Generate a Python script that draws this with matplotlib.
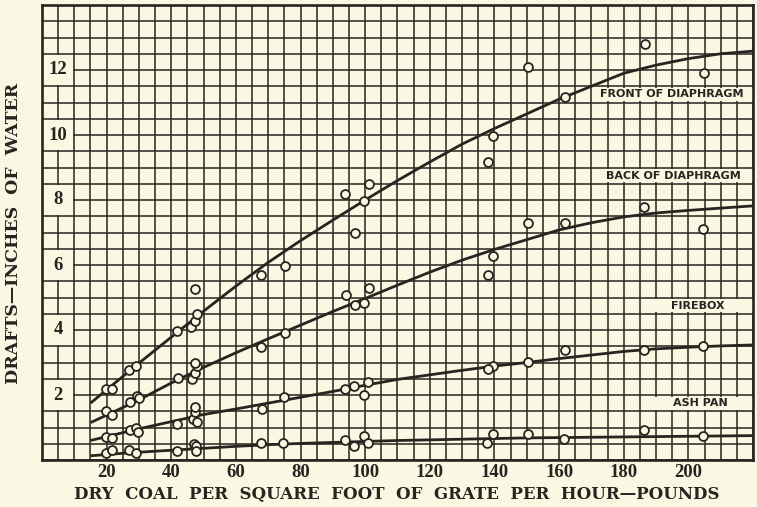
import matplotlib
matplotlib.use("Agg")
import matplotlib.pyplot as plt
from matplotlib.patches import Rectangle

# ---- measured points: dry coal (lb / sq ft / hr) vs draft (in. of water) ----
front_x = [19.7, 21.6, 26.9, 29.0, 41.7, 46.2, 47.3, 47.9, 47.2, 67.9, 75.2,
           93.8, 101.3, 99.6, 96.9, 139.6, 137.9, 150.3, 161.8, 186.6, 204.8]
front_y = [2.2, 2.2, 2.78, 2.89, 3.98, 4.08, 4.27, 4.5, 5.27, 5.69, 5.98,
           8.19, 8.5, 7.96, 6.97, 9.98, 9.18, 12.09, 11.18, 12.8, 11.9]

back_x = [19.7, 21.8, 27.2, 29.3, 29.9, 42.0, 46.3, 47.2, 47.9, 47.2, 67.9, 75.2,
          94.0, 101.3, 96.9, 99.7, 139.6, 138.1, 150.3, 161.8, 186.4, 204.4]
back_y = [1.5, 1.4, 1.79, 1.98, 1.9, 2.51, 2.48, 2.67, 2.89, 2.99, 3.47, 3.9,
          5.09, 5.3, 4.78, 4.84, 6.29, 5.68, 7.29, 7.29, 7.8, 7.11]

firebox_x = [19.8, 21.7, 27.2, 29.1, 29.8, 41.7, 46.8, 47.3, 47.3, 47.9, 68.0,
             75.0, 93.7, 96.6, 101.0, 99.5, 139.6, 138.1, 150.3, 161.8, 186.2, 204.4]
firebox_y = [0.70, 0.68, 0.91, 0.99, 0.87, 1.12, 1.27, 1.48, 1.64, 1.16, 1.58,
             1.93, 2.2, 2.27, 2.4, 2.0, 2.89, 2.8, 3.01, 3.4, 3.4, 3.5]

ashpan_x = [19.7, 21.8, 27.0, 29.0, 41.7, 47.1, 47.5, 47.6, 67.9, 74.7, 93.7,
            96.6, 99.5, 101.0, 139.6, 137.8, 150.3, 161.6, 186.2, 204.4]
ashpan_y = [0.22, 0.32, 0.32, 0.22, 0.29, 0.5, 0.42, 0.27, 0.51, 0.51, 0.63,
            0.43, 0.73, 0.51, 0.8, 0.51, 0.8, 0.65, 0.91, 0.73]

# ---- faired curves drawn through the observations ----
curve_x = [15, 20, 30, 40, 50, 60, 70, 80, 90, 100, 110, 120, 130, 140,
           150, 160, 170, 180, 190, 200, 210, 220]
front_curve = [1.75, 2.16, 2.98, 3.78, 4.58, 5.35, 6.08, 6.75, 7.38, 8.0, 8.6,
               9.17, 9.72, 10.2, 10.65, 11.1, 11.5, 11.9, 12.15, 12.35, 12.5, 12.58]
back_curve = [1.15, 1.38, 1.85, 2.37, 2.85, 3.3, 3.73, 4.15, 4.57, 4.97, 5.38,
              5.78, 6.15, 6.48, 6.78, 7.08, 7.3, 7.48, 7.6, 7.68, 7.75, 7.82]
firebox_curve = [0.6, 0.72, 0.96, 1.18, 1.4, 1.57, 1.75, 1.93, 2.11, 2.3, 2.48,
                 2.62, 2.76, 2.89, 3.0, 3.12, 3.23, 3.34, 3.42, 3.47, 3.51, 3.54]
ashpan_curve = [0.13, 0.17, 0.24, 0.3, 0.36, 0.42, 0.47, 0.51, 0.54, 0.57, 0.6,
                0.62, 0.64, 0.66, 0.68, 0.69, 0.7, 0.71, 0.72, 0.73, 0.74, 0.75]

series_labels = ["FRONT OF DIAPHRAGM", "BACK OF DIAPHRAGM", "FIREBOX", "ASH PAN"]
label_cells = [(172, 11.0), (172.5, 8.5), (188, 4.5), (189.5, 1.5)]   # (x start, y of cell bottom)

x_ticks = [20, 40, 60, 80, 100, 120, 140, 160, 180, 200]
y_ticks = [2, 4, 6, 8, 10, 12]

PAPER = "#faf8e3"
INK = "#2a2320"

fig = plt.figure(figsize=(7.57, 5.07), dpi=100, facecolor=PAPER)
ax = fig.add_axes([42 / 757, 47 / 507, 711 / 757, 455 / 507])
ax.set_facecolor(PAPER)
ax.set_xlim(0, 220)
ax.set_ylim(0, 14)

# cross-section paper
ax.set_xticks([v * 5 for v in range(45)], minor=True)
ax.set_yticks([v * 0.5 for v in range(29)], minor=True)
ax.set_xticks(x_ticks)
ax.set_xticklabels([str(t) for t in x_ticks])
ax.set_yticks([])
ax.grid(which="both", color=INK, linewidth=1.1)
ax.set_axisbelow(True)
ax.tick_params(which="both", length=0)
ax.tick_params(axis="x", pad=3, labelsize=13.5, labelcolor=INK)
for lab in ax.get_xticklabels():
    lab.set_fontfamily("Liberation Serif")
    lab.set_fontweight("bold")
for sp in ax.spines.values():
    sp.set_color(INK)
    sp.set_linewidth(1.9)

# scale figures sit inside the first two columns
for t in y_ticks:
    ax.add_patch(Rectangle((0.3, t - 0.46), 9.4, 0.92, facecolor=PAPER,
                           edgecolor="none", zorder=1))
    ax.text(5, t, str(t), ha="center", va="center", fontsize=13.5,
            family="Liberation Serif", weight="bold", color=INK, zorder=2)

# curves and observations
curves = [front_curve, back_curve, firebox_curve, ashpan_curve]
points = [(front_x, front_y), (back_x, back_y), (firebox_x, firebox_y),
          (ashpan_x, ashpan_y)]
for cy, (px, py) in zip(curves, points):
    ax.plot(curve_x, cy, color=INK, linewidth=2.0, zorder=3,
            solid_capstyle="butt")
    ax.plot(px, py, linestyle="none", marker="o", markersize=6.4,
            markerfacecolor=PAPER, markeredgecolor=INK, markeredgewidth=1.3,
            zorder=4)

# curve names in blank strips
for name, (x0, yb) in zip(series_labels, label_cells):
    ax.add_patch(Rectangle((x0, yb + 0.05), 220 - x0, 0.4, facecolor=PAPER,
                           edgecolor="none", zorder=1))
    ax.text((x0 + 218) / 2, yb + 0.25, name, ha="center", va="center",
            fontsize=8.0, family="DejaVu Sans", weight="bold", color=INK,
            zorder=2)

fig.text(397 / 757, 1 - 495 / 507,
         "DRY  COAL  PER  SQUARE  FOOT  OF  GRATE  PER  HOUR\u2014POUNDS",
         ha="center", va="center", fontsize=12.0, family="DejaVu Serif",
         weight="bold", color=INK)
fig.text(14 / 757, 1 - 233 / 507, "DRAFTS\u2014INCHES  OF  WATER",
         ha="center", va="center", rotation=90, fontsize=12.5,
         family="DejaVu Serif", weight="bold", color=INK)

fig.savefig("out.png", dpi=100, facecolor=PAPER)
